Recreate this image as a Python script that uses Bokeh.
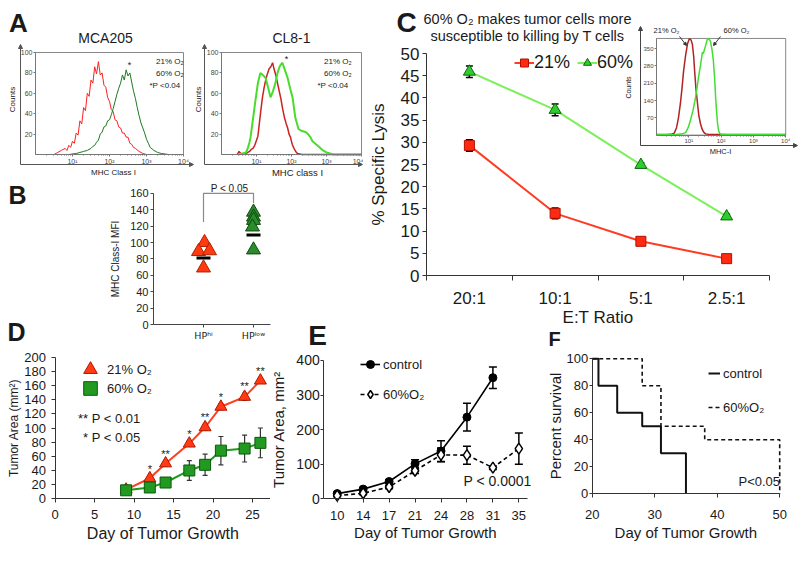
import numpy as np
from bokeh.plotting import figure
from bokeh.layouts import row, column
from bokeh.models import (Label, LinearAxis, LogAxis, FixedTicker, Range1d, LogScale,
                          Whisker, TeeHead, ColumnDataSource, Legend, LegendItem,
                          Arrow, NormalHead)
from bokeh.core.properties import value
from bokeh.embed import file_html
from bokeh.resources import INLINE

FONT = "Liberation Sans"
INK = "#1a1a1a"

# ---------------- DATA ----------------
# Panel A: flow histograms (log10 of MHC class I intensity, counts)
mca205_21_log = [0.50, 0.60, 0.70, 0.80, 0.85, 0.90, 0.95, 1.00, 1.05, 1.10, 1.15, 1.20, 1.25, 1.30, 1.35,
                 1.40, 1.45, 1.50, 1.55, 1.60, 1.65, 1.70, 1.75, 1.80, 1.85, 1.90, 1.95, 2.00, 2.05, 2.10,
                 2.15, 2.20, 2.25, 2.30, 2.35, 2.40, 2.45, 2.50, 2.55, 2.60, 2.65, 2.70, 2.80, 2.90, 3.00, 4.00]
mca205_21_cnt = [0, 2, 4, 6, 4, 9, 7, 13, 11, 21, 19, 33, 30, 46, 43, 60, 57, 73, 70, 86, 79, 91, 78, 80,
                 68, 66, 56, 52, 44, 42, 34, 33, 27, 26, 21, 21, 17, 17, 11, 10, 7, 6, 3, 1, 0, 0]
mca205_60_log = [0.90, 1.10, 1.20, 1.30, 1.40, 1.50, 1.55, 1.60, 1.65, 1.70, 1.75, 1.80, 1.85, 1.90, 1.95,
                 2.00, 2.05, 2.10, 2.15, 2.20, 2.25, 2.30, 2.35, 2.40, 2.45, 2.50, 2.55, 2.60, 2.65, 2.70,
                 2.75, 2.80, 2.85, 2.90, 2.95, 3.00, 3.05, 3.10, 3.20, 3.30, 3.40, 3.60, 4.00]
mca205_60_cnt = [0, 1, 2, 3, 4, 6, 8, 9, 12, 14, 20, 22, 27, 28, 33, 34, 39, 45, 52, 59, 65, 70, 78, 73,
                 83, 77, 80, 71, 62, 55, 46, 38, 31, 26, 21, 15, 11, 7, 4, 2, 1, 0, 0]
cl81_21_log = [0.45, 0.50, 0.55, 0.60, 0.70, 0.75, 0.80, 0.85, 0.90, 0.95, 1.00, 1.04, 1.08, 1.12, 1.17,
               1.22, 1.27, 1.31, 1.36, 1.41, 1.46, 1.50, 1.55, 1.60, 1.65, 1.70, 1.74, 1.80, 1.85, 1.89,
               1.93, 1.97, 2.02, 2.07, 2.12, 2.17, 2.30, 4.00]
cl81_21_cnt = [0, 3, 1, 0, 1, 2, 3, 5, 6, 9, 14, 18, 30, 42, 56, 66, 74, 79, 84, 86, 90, 84, 78, 70, 62,
               54, 46, 36, 30, 26, 20, 17, 10, 6, 3, 1, 0, 0]
cl81_60_log = [0.50, 0.60, 0.70, 0.75, 0.80, 0.83, 0.90, 0.97, 1.04, 1.11, 1.18, 1.26, 1.33, 1.40, 1.47,
               1.54, 1.60, 1.67, 1.74, 1.80, 1.89, 1.96, 2.03, 2.07, 2.11, 2.16, 2.20, 2.30, 2.40, 2.47,
               2.54, 2.60, 2.70, 2.80, 2.90, 3.00, 3.10, 3.20, 4.00]
cl81_60_cnt = [0, 1, 2, 6, 12, 17, 35, 53, 70, 80, 78, 75, 66, 56, 62, 70, 80, 87, 90, 84, 75, 65, 56, 46,
               36, 30, 25, 23, 22, 20, 17, 13, 10, 7, 4, 2, 1, 0, 0]

# Panel B: MHC class-I MFI
b_groups = ["HPʰⁱ", "HPˡᵒʷ"]
b_hi_pos = [1.02, 0.90, 1.12, 1.00]
b_hi_mfi = [100, 89, 90, 69]
b_low_pos = [2.00, 2.00, 2.00, 1.98, 2.00]
b_low_mfi = [137, 131, 127, 119, 91]
b_mean = [81, 109]
b_bracket_y = [125, 160, 160, 148]

# Panel C: specific lysis + inset histogram
c_ratios = ["20:1", "10:1", "5:1", "2.5:1"]
c_21 = [29.3, 14.0, 7.7, 3.8]
c_21_err = [1.3, 1.2, 0.5, 0.4]
c_60 = [45.9, 37.3, 24.9, 13.3]
c_60_err = [1.3, 1.3, 0.5, 0.5]
inset_21_log = [0.00, 0.30, 0.45, 0.55, 0.62, 0.68, 0.74, 0.79, 0.84, 0.90, 0.96, 1.02, 1.07, 1.11, 1.15,
                1.18, 1.22, 1.27, 1.31, 1.36, 1.41, 1.46, 1.52, 1.60, 2.00, 3.00, 4.00]
inset_21_cnt = [2, 2, 3, 8, 30, 70, 128, 190, 261, 322, 370, 391, 385, 368, 320, 261, 190, 128, 80, 47,
                25, 12, 5, 3, 2, 2, 2]
inset_60_log = [0.00, 0.60, 0.80, 0.90, 0.98, 1.05, 1.13, 1.21, 1.26, 1.30, 1.36, 1.42, 1.45, 1.52, 1.58,
                1.63, 1.67, 1.72, 1.76, 1.80, 1.83, 1.86, 1.89, 1.92, 1.95, 2.00, 2.20, 3.00, 4.00]
inset_60_cnt = [1, 2, 5, 10, 30, 59, 100, 153, 195, 234, 280, 335, 330, 362, 391, 388, 380, 345, 302, 230,
                153, 95, 47, 20, 8, 3, 1, 1, 1]
inset_top = 391

# Panel D: tumor area
d_days = [9, 12, 14, 17, 19, 21, 24, 26]
d_21 = [13, 29, 50, 78, 101, 130, 144, 167]
d_21_err = [2, 3, 4, 4, 4, 4, 5, 4]
d_60 = [12, 16, 23, 40, 48, 68, 71, 79]
d_60_err = [3, 3, 6, 14, 15, 20, 19, 21]
d_sig = ["", "*", "**", "*", "**", "*", "**", "**"]

# Panel E: tumor area
e_days = ["10", "14", "17", "21", "24", "28", "31", "35"]
e_ctrl = [15, 28, 50, 101, 138, 236, 350]
e_ctrl_err = [5, 5, 5, 12, 30, 40, 31]
e_o2 = [9, 16, 34, 81, 127, 126, 90, 145]
e_o2_err = [3, 4, 5, 8, 20, 26, 5, 45]

# Panel F: survival
f_ctrl_days = [20, 21, 24, 28, 31, 35]
f_ctrl_surv = [100, 80, 60, 50, 30, 0]
f_o2_days = [20, 28, 31, 38, 50]
f_o2_surv = [100, 80, 50, 40, 0]

SUP = {10: "10¹", 100: "10²", 1000: "10³", 10000: "10⁴"}
MINOR = [k * 10 ** e for e in range(4) for k in range(2, 10)]


# ---------------- HELPERS ----------------
def make_fig(box, xmap, ymap, x_log=False):
    """box = canvas in page pixels; the plotting frame fills the whole canvas."""
    bx0, by0, bx1, by1 = box
    x0, xs = xmap
    y0, ys = ymap
    xa, xb = (bx0 - x0) / xs, (bx1 - x0) / xs
    ya, yb = (y0 - by1) / ys, (y0 - by0) / ys
    xr = Range1d(10 ** xa, 10 ** xb) if x_log else Range1d(xa, xb)
    p = figure(width=bx1 - bx0, height=by1 - by0, x_range=xr, y_range=Range1d(ya, yb),
               x_axis_type="log" if x_log else "linear",
               min_border=0, min_border_left=0, min_border_right=0,
               min_border_top=0, min_border_bottom=0,
               toolbar_location=None, output_backend="svg", title=None)
    p.grid.visible = False
    p.outline_line_color = None
    p.background_fill_color = "white"
    p.border_fill_color = "white"
    return p, box


def txt(p, fr, x, y, text, size, align="center", bold=False, angle=0.0, color=INK):
    fl, ft, frr, fb = fr
    p.add_layout(Label(x=x - fl, y=fb - y, x_units="screen", y_units="screen", text=text,
                       text_font=FONT, text_font_size=f"{size}px", text_align=align,
                       text_baseline="middle", text_font_style="bold" if bold else "normal",
                       angle=angle, text_color=color))


def arrow(p, fr, x0, y0, x1, y1, color="#444", head=4):
    fl, ft, frr, fb = fr
    p.add_layout(Arrow(x_start=x0 - fl, y_start=fb - y0, x_end=x1 - fl, y_end=fb - y1,
                       start_units="screen", end_units="screen", line_color=color, line_width=1,
                       end=NormalHead(size=head, fill_color=color, line_color=color)))


def base_axes(ax, size, tick_out=4, standoff=3, line="#333", color=INK):
    ax.major_label_text_font = FONT
    ax.major_label_text_font_size = f"{size}px"
    ax.major_label_text_color = color
    ax.axis_line_color = line
    ax.major_tick_line_color = line
    ax.minor_tick_line_color = line
    ax.major_tick_out = tick_out
    ax.major_tick_in = 0
    ax.minor_tick_out = 0
    ax.minor_tick_in = 0
    ax.major_label_standoff = standoff
    ax.axis_label_text_font = FONT
    ax.axis_label_text_font_style = "normal"
    ax.axis_label_text_color = color


def set_label(ax, text, size, standoff):
    ax.axis_label = text
    ax.axis_label_text_font_size = f"{size}px"
    ax.axis_label_standoff = standoff


def style_legend(lg, size, gw, gh, standoff, spacing, orientation="vertical"):
    lg.label_text_font = FONT
    lg.label_text_font_size = f"{size}px"
    lg.label_text_color = INK
    lg.glyph_width = gw
    lg.glyph_height = gh
    lg.label_height = gh
    lg.label_standoff = standoff
    lg.spacing = spacing
    lg.padding = 0
    lg.margin = 0
    lg.border_line_color = None
    lg.background_fill_alpha = 0
    lg.orientation = orientation


def flow_axes(ix, iy, ytop, yticks, font_px):
    ix.fixed_location = 0
    ix.ticker = FixedTicker(ticks=[10, 100, 1000, 10000], minor_ticks=MINOR)
    ix.major_label_overrides = SUP
    ix.bounds = (1, 10000)
    base_axes(ix, font_px, tick_out=2, standoff=1, line="#777", color="#444")
    ix.minor_tick_out = 1
    iy.fixed_location = 1
    iy.ticker = FixedTicker(ticks=yticks)
    iy.bounds = (0, ytop)
    base_axes(iy, font_px, tick_out=2, standoff=1, line="#777", color="#444")


def flow_panel(box, xmap, title, title_x, xlabel, xlabel_x, xlabel_size, curves, leg_x, star_xy,
               counts_x, lx, rx):
    p, fr = make_fig(box, xmap, (154, 1.02), x_log=True)
    flow_axes(p.xaxis[0], p.yaxis[0], 100, [20, 40, 60, 80, 100], 7)
    p.quad(left=[1], right=[10000], bottom=[0], top=[100], fill_color=None, line_color="#888")
    for logs, cnts, color, width in curves:
        p.line(10 ** np.array(logs), cnts, line_color=color, line_width=width)
    r1 = p.quad(left=[], right=[], top=[], bottom=[], fill_color=curves[0][2], line_color=None)
    r2 = p.quad(left=[], right=[], top=[], bottom=[], fill_color=curves[1][2], line_color=None)
    lg = Legend(items=[LegendItem(label="21% O₂", renderers=[r1]),
                       LegendItem(label="60% O₂", renderers=[r2])],
                location=(leg_x - 4 - fr[0], fr[3] - 78))
    style_legend(lg, 8, 8, 10, 2, 2)
    p.add_layout(lg)
    txt(p, fr, title_x, 37, title, 14)
    txt(p, fr, xlabel_x, 172, xlabel, xlabel_size)
    txt(p, fr, counts_x, 99, "Counts", 8, angle=np.pi / 2)
    txt(p, fr, leg_x - 1, 85, "*P <0.04", 8, align="left")
    txt(p, fr, star_xy[0], star_xy[1], "*", 9)
    arrow(p, fr, lx, 164, lx, 44, color="#555", head=4)
    arrow(p, fr, lx, 164, rx, 164, color="#555", head=4)
    return p, fr


# ---------------- PANEL A ----------------
pa1, fra1 = flow_panel((0, 0, 194, 178), (35, 37), "MCA205", 105, "MHC Class I", 113, 8,
                       [(mca205_21_log, mca205_21_cnt, "#ff2020", 1),
                        (mca205_60_log, mca205_60_cnt, "#1f7a1f", 1)],
                       150, (129, 64), 12, 20, 193)
txt(pa1, fra1, 18, 22, "A", 26, bold=True)
pa2, fra2 = flow_panel((194, 0, 363, 178), (221, 35), "CL8-1", 291, "MHC class I", 297, 9.5,
                       [(cl81_21_log, cl81_21_cnt, "#cc2222", 1.5),
                        (cl81_60_log, cl81_60_cnt, "#48dd2a", 2)],
                       318, (286, 58), 198, 204, 362)

# ---------------- PANEL B ----------------
pb, frb = make_fig((0, 178, 363, 350), (153, 50), (324, 0.82))
xa, ya = pb.xaxis[0], pb.yaxis[0]
base_axes(ya, 11, tick_out=3, standoff=2, line="#444")
ya.fixed_location = 0
ya.ticker = FixedTicker(ticks=list(range(0, 161, 20)))
ya.bounds = (0, 160)
set_label(ya, "MHC Class-I MFI", 10, 6)
base_axes(xa, 10, tick_out=3, standoff=2, line="#444")
xa.major_label_text_font = "DejaVu Sans"
xa.major_label_text_font_size = "9.5px"
b_x = [1, 2]
xa.fixed_location = 0
xa.ticker = FixedTicker(ticks=b_x)
xa.major_label_overrides = {b_x[0]: b_groups[0], b_x[1]: b_groups[1]}
xa.bounds = (0, 2.34)
pb.line([b_x[0], b_x[0], b_x[1], b_x[1]], b_bracket_y, line_color="#8a8a8a", line_width=1.2)
pb.scatter(b_hi_pos, b_hi_mfi, marker="triangle", size=14, fill_color="#ff3a10",
           line_color="#b02000", line_width=1)
pb.scatter(b_low_pos, b_low_mfi, marker="triangle", size=14, fill_color="#2a8c2a",
           line_color="#0f4a0f", line_width=1)
pb.scatter(b_x, b_mean, marker="dash", size=14, line_width=3, line_color="black")
txt(pb, frb, 229, 188, "P < 0.05", 10)
txt(pb, frb, 17, 194, "B", 25, bold=True)
txt(pb, frb, 16, 331, "D", 25, bold=True)
txt(pb, frb, 317, 334.5, "E", 28, bold=True)

# ---------------- PANEL C ----------------
pc, frc = make_fig((363, 0, 800, 350), (426, 85.75), (275, 4.44))
xa, ya = pc.xaxis[0], pc.yaxis[0]
base_axes(ya, 17, tick_out=4, standoff=3)
ya.fixed_location = 0
ya.ticker = FixedTicker(ticks=list(range(0, 51, 5)))
ya.bounds = (0, 50)
set_label(ya, "% Specific Lysis", 17, 10)
c_x = [i + 0.5 for i in range(len(c_ratios))]
base_axes(xa, 17, tick_out=0, standoff=8)
xa.fixed_location = 0
xa.ticker = FixedTicker(ticks=c_x, minor_ticks=list(range(len(c_ratios) + 1)))
xa.minor_tick_out = 5
xa.major_label_overrides = {c_x[i]: c_ratios[i] for i in range(len(c_ratios))}
xa.bounds = (0, len(c_ratios))
set_label(xa, "E:T Ratio", 17, -3)

src21 = ColumnDataSource(dict(x=c_x, y=c_21, lo=np.array(c_21) - np.array(c_21_err),
                              hi=np.array(c_21) + np.array(c_21_err)))
src60 = ColumnDataSource(dict(x=c_x, y=c_60, lo=np.array(c_60) - np.array(c_60_err),
                              hi=np.array(c_60) + np.array(c_60_err)))
for s in (src21, src60):
    pc.add_layout(Whisker(source=s, base="x", upper="hi", lower="lo", line_color="black", line_width=1.5,
                          upper_head=TeeHead(size=7, line_color="black", line_width=1.5),
                          lower_head=TeeHead(size=7, line_color="black", line_width=1.5)))
l21 = pc.line("x", "y", source=src21, line_color="#ff3b22", line_width=2)
m21 = pc.scatter("x", "y", source=src21, marker="square", size=10, fill_color="#ff2a12",
                 line_color="#b01000")
l60 = pc.line("x", "y", source=src60, line_color="#7cf05a", line_width=2)
m60 = pc.scatter("x", "y", source=src60, marker="triangle", size=12, fill_color="#2ecc2e",
                 line_color="#0a6a0a")
lgc = Legend(items=[LegendItem(label="21%", renderers=[l21, m21]),
                    LegendItem(label="60%", renderers=[l60, m60])],
             location=(514 - 363, 350 - 73))
style_legend(lgc, 18, 20, 21, -2, 7, orientation="horizontal")
pc.add_layout(lgc)

# inset histogram (own log x range and count y range)
IX0, IXD = 656, 32.3          # pixel of 10^0, pixels per decade
IY0, IYS = 134.6, 17.3 / 70   # pixel of 0 counts, pixels per count
pc.extra_x_ranges = {"ix": Range1d(10 ** ((363 - IX0) / IXD), 10 ** ((800 - IX0) / IXD))}
pc.extra_x_scales = {"ix": LogScale()}
pc.extra_y_ranges = {"iy": Range1d((IY0 - 350) / IYS, (IY0 - 0) / IYS)}
iax = LogAxis(x_range_name="ix", y_range_name="iy")
iay = LinearAxis(x_range_name="ix", y_range_name="iy")
flow_axes(iax, iay, inset_top, [70, 140, 210, 280, 350], 6)
pc.add_layout(iax, "below")
pc.add_layout(iay, "left")
pc.quad(left=[1], right=[10000], bottom=[0], top=[inset_top], fill_color=None, line_color="#888",
        x_range_name="ix", y_range_name="iy")
pc.line(10 ** np.array(inset_21_log), inset_21_cnt, line_color="#b22222", line_width=1.5,
        x_range_name="ix", y_range_name="iy")
pc.line(10 ** np.array(inset_60_log), inset_60_cnt, line_color="#44dd33", line_width=1.5,
        x_range_name="ix", y_range_name="iy")
arrow(pc, frc, 640, 145, 640, 26, color="#444", head=4)
arrow(pc, frc, 640, 145, 797, 145, color="#444", head=4)
arrow(pc, frc, 679, 36, 686, 45, color="#333", head=3)
arrow(pc, frc, 720, 36, 713, 45, color="#333", head=3)
txt(pc, frc, 666, 30, "21% O₂", 7.5)
txt(pc, frc, 736, 30, "60% O₂", 7.5)
txt(pc, frc, 628, 87, "Counts", 7, angle=np.pi / 2)
txt(pc, frc, 720, 151, "MHC-I", 7.5)

txt(pc, frc, 406, 22, "C", 28, bold=True)
txt(pc, frc, 527, 18, "60% O₂ makes tumor cells more", 14.5)
txt(pc, frc, 527, 35, "susceptible to killing by T cells", 14.5)
txt(pc, frc, 554, 338.5, "F", 20, bold=True)

# ---------------- PANEL D ----------------
pdd, frd = make_fig((0, 350, 270, 563), (54.5, 7.9), (498.3, 0.708))
xa, ya = pdd.xaxis[0], pdd.yaxis[0]
base_axes(ya, 13, tick_out=4, standoff=5)
ya.fixed_location = 0
ya.ticker = FixedTicker(ticks=list(range(0, 201, 20)))
ya.bounds = (0, 200)
set_label(ya, "Tumor Area (mm²)", 12, 1)
base_axes(xa, 13, tick_out=4, standoff=7)
xa.fixed_location = 0
xa.ticker = FixedTicker(ticks=list(range(0, 26, 5)))
xa.bounds = (0, 27.3)
set_label(xa, "Day of Tumor Growth", 16, 3)
sd21 = ColumnDataSource(dict(x=d_days, y=d_21, lo=np.array(d_21) - np.array(d_21_err),
                             hi=np.array(d_21) + np.array(d_21_err), sig=d_sig))
sd60 = ColumnDataSource(dict(x=d_days, y=d_60, lo=np.array(d_60) - np.array(d_60_err),
                             hi=np.array(d_60) + np.array(d_60_err)))
for s in (sd21, sd60):
    pdd.add_layout(Whisker(source=s, base="x", upper="hi", lower="lo", line_color="#333", line_width=1.2,
                           upper_head=TeeHead(size=5, line_color="#333", line_width=1.2),
                           lower_head=TeeHead(size=5, line_color="#333", line_width=1.2)))
pdd.line("x", "y", source=sd21, line_color="#ff3d1f", line_width=2)
md21 = pdd.scatter("x", "y", source=sd21, marker="triangle", size=12, fill_color="#ff3a14",
                   line_color="#b01800")
pdd.line("x", "y", source=sd60, line_color="#1f9a1f", line_width=2)
md60 = pdd.scatter("x", "y", source=sd60, marker="square", size=11, fill_color="#229a22",
                   line_color="#0a5a0a")
pdd.text("x", "hi", text="sig", source=sd21, y_offset=-1, text_align="center", text_baseline="bottom",
         text_font=value(FONT), text_font_size="11px", text_color=INK)
lgd1 = Legend(items=[LegendItem(label="21% O₂", renderers=[md21])], location=(73, 563 - 386))
lgd2 = Legend(items=[LegendItem(label="60% O₂", renderers=[md60])], location=(73, 563 - 405))
for lg in (lgd1, lgd2):
    style_legend(lg, 13, 34, 34, -4, 0)
    pdd.add_layout(lg)
txt(pdd, frd, 140, 418, "** P < 0.01", 13, align="right")
txt(pdd, frd, 140, 437, "* P < 0.05", 13, align="right")

# ---------------- PANEL E ----------------
pe, fre = make_fig((270, 350, 540, 563), (336.7, 25.95), (498.3, 0.346))
xa, ya = pe.xaxis[0], pe.yaxis[0]
e_idx = list(range(len(e_days)))
base_axes(ya, 14, tick_out=3, standoff=1)
ya.fixed_location = -0.52
ya.ticker = FixedTicker(ticks=[0, 100, 200, 300, 400])
ya.bounds = (0, 400)
set_label(ya, "Tumor Area, mm²", 15, 6)
base_axes(xa, 13, tick_out=4, standoff=8)
xa.fixed_location = 0
xa.ticker = FixedTicker(ticks=e_idx)
xa.major_label_overrides = {i: e_days[i] for i in e_idx}
xa.bounds = (-0.52, 7.35)
set_label(xa, "Day of Tumor Growth", 15, 1)
sec = ColumnDataSource(dict(x=e_idx[:len(e_ctrl)], y=e_ctrl, lo=np.array(e_ctrl) - np.array(e_ctrl_err),
                            hi=np.array(e_ctrl) + np.array(e_ctrl_err)))
seo = ColumnDataSource(dict(x=e_idx, y=e_o2, lo=np.array(e_o2) - np.array(e_o2_err),
                            hi=np.array(e_o2) + np.array(e_o2_err)))
for s in (sec, seo):
    pe.add_layout(Whisker(source=s, base="x", upper="hi", lower="lo", line_color="black", line_width=1.5,
                          upper_head=TeeHead(size=8, line_color="black", line_width=1.5),
                          lower_head=TeeHead(size=8, line_color="black", line_width=1.5)))
le1 = pe.line("x", "y", source=sec, line_color="black", line_width=1.6)
me1 = pe.scatter("x", "y", source=sec, marker="circle", size=8, fill_color="black", line_color="black")
le2 = pe.line("x", "y", source=seo, line_color="black", line_width=1.6, line_dash="4 3")
me2 = pe.scatter("x", "y", source=seo, marker="diamond", size=11, fill_color="white", line_color="black",
                 line_width=1.5)
lge = Legend(items=[LegendItem(label="control", renderers=[le1, me1]),
                    LegendItem(label="60%O₂", renderers=[le2, me2])],
             location=(360 - 270, 563 - 404))
style_legend(lge, 13, 20, 20, 3, 10)
pe.add_layout(lge)
txt(pe, fre, 463, 480, "P < 0.0001", 14, align="left")

# ---------------- PANEL F ----------------
pf, frf = make_fig((540, 350, 800, 563), (466.7, 6.25), (493.3, 1.35))
xa, ya = pf.xaxis[0], pf.yaxis[0]
base_axes(ya, 13, tick_out=3, standoff=1)
ya.fixed_location = 20
ya.ticker = FixedTicker(ticks=list(range(0, 101, 20)))
ya.bounds = (0, 100)
set_label(ya, "Percent survival", 15, 0)
base_axes(xa, 13, tick_out=4, standoff=12)
xa.fixed_location = 0
xa.ticker = FixedTicker(ticks=[20, 30, 40, 50])
xa.bounds = (20, 50)
set_label(xa, "Day of Tumor Growth", 15, 2)
lf1 = pf.step(f_ctrl_days, f_ctrl_surv, mode="after", line_color="#111", line_width=2)
lf2 = pf.step(f_o2_days, f_o2_surv, mode="after", line_color="#111", line_width=1.6, line_dash="4 3")
lgf = Legend(items=[LegendItem(label="control", renderers=[lf1]),
                    LegendItem(label="60%O₂", renderers=[lf2])],
             location=(708 - 540, 563 - 417))
style_legend(lgf, 13, 12, 20, 3, 14)
pf.add_layout(lgf)
txt(pf, frf, 738, 481, "P<0.05", 13, align="left")

layout = column(
    row(column(row(pa1, pa2), pb), pc),
    row(pdd, pe, pf),
)
open("out.html", "w").write(file_html(layout, INLINE))
